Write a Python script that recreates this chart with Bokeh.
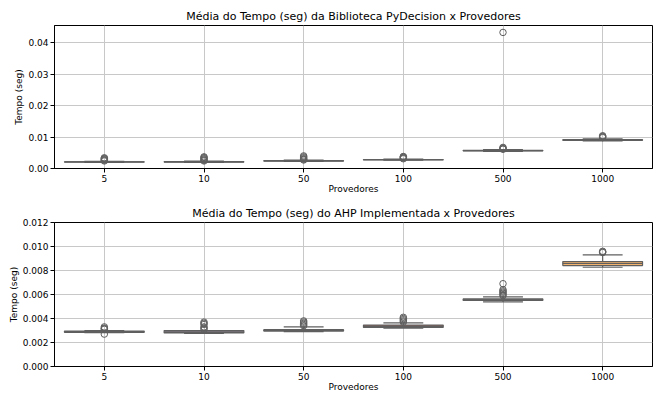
from bokeh.plotting import figure
from bokeh.layouts import column
from bokeh.models import (ColumnDataSource, FactorRange, FixedTicker, PrintfTickFormatter,
                          CategoricalAxis)
from bokeh.transform import dodge
from bokeh.embed import file_html
from bokeh.resources import INLINE

categories = ["5", "10", "50", "100", "500", "1000"]
box_colors = ["#6e6a72", "#77727a", "#7a7276", "#b86a5a", "#7c7878", "#f2b36e"]

# Top chart: PyDecision
top_q1 = [0.00205, 0.00205, 0.00235, 0.00272, 0.00560, 0.00895]
top_med = [0.00210, 0.00210, 0.00240, 0.00278, 0.00568, 0.00905]
top_q3 = [0.00215, 0.00218, 0.00248, 0.00285, 0.00578, 0.00915]
top_lo = [0.00195, 0.00195, 0.00225, 0.00262, 0.00545, 0.00880]
top_hi = [0.00230, 0.00232, 0.00265, 0.00302, 0.00600, 0.00940]
top_out = [
    [0.0024, 0.0026, 0.0028, 0.0030, 0.0032, 0.0034],
    [0.0024, 0.0026, 0.0029, 0.0032, 0.0035, 0.0037],
    [0.0027, 0.0029, 0.0031, 0.0034, 0.0037, 0.0040],
    [0.0031, 0.0033, 0.0035, 0.0037, 0.0038],
    [0.0061, 0.0063, 0.0065, 0.0067, 0.0432],
    [0.0098, 0.0100, 0.0102, 0.0104],
]
top_yticks = [0.0, 0.01, 0.02, 0.03, 0.04]

# Bottom chart: AHP implementada
bot_q1 = [0.00285, 0.00280, 0.00295, 0.00325, 0.00550, 0.00841]
bot_med = [0.00289, 0.00285, 0.00300, 0.00335, 0.00555, 0.00860]
bot_q3 = [0.00295, 0.00300, 0.00307, 0.00345, 0.00563, 0.00875]
bot_lo = [0.00282, 0.00275, 0.00290, 0.00320, 0.00538, 0.00827]
bot_hi = [0.00300, 0.00300, 0.00330, 0.00364, 0.00580, 0.00930]
bot_out = [
    [0.0027, 0.0031, 0.00315, 0.0032, 0.0033],
    [0.0031, 0.0032, 0.0033, 0.0035, 0.0036, 0.0037],
    [0.0034, 0.0035, 0.0036, 0.0037, 0.0038],
    [0.0037, 0.0038, 0.0039, 0.0040, 0.0041],
    [0.0059, 0.0060, 0.0061, 0.0062, 0.0063, 0.0064, 0.0069],
    [0.0095, 0.00955, 0.0096],
]
bot_yticks = [0.0, 0.002, 0.004, 0.006, 0.008, 0.010, 0.012]

LINE = "#5f5f5f"
FONT = "DejaVu Sans"


def make_chart(title, q1, med, q3, lo, hi, outs, yticks, ymax, fmt, height, top_border):
    p = figure(x_range=FactorRange(*categories, range_padding=0), y_range=(0, ymax),
               width=655, height=height, output_backend="svg", toolbar_location=None,
               min_border_left=54, min_border_right=3, min_border_top=top_border,
               min_border_bottom=0)
    src = ColumnDataSource(dict(cat=categories, q1=q1, med=med, q3=q3, lo=lo, hi=hi, color=box_colors))
    # whiskers
    p.segment(x0="cat", y0="lo", x1="cat", y1="q1", source=src, line_color=LINE, line_width=1.2)
    p.segment(x0="cat", y0="q3", x1="cat", y1="hi", source=src, line_color=LINE, line_width=1.2)
    # caps
    p.segment(x0=dodge("cat", -0.2, range=p.x_range), y0="lo", x1=dodge("cat", 0.2, range=p.x_range), y1="lo",
              source=src, line_color=LINE, line_width=1.2)
    p.segment(x0=dodge("cat", -0.2, range=p.x_range), y0="hi", x1=dodge("cat", 0.2, range=p.x_range), y1="hi",
              source=src, line_color=LINE, line_width=1.2)
    # boxes
    p.vbar(x="cat", width=0.8, bottom="q1", top="q3", source=src, fill_color="color",
           line_color=LINE, line_width=1.2)
    # medians
    p.segment(x0=dodge("cat", -0.4, range=p.x_range), y0="med", x1=dodge("cat", 0.4, range=p.x_range), y1="med",
              source=src, line_color=LINE, line_width=1.2)
    # outliers
    oc, ov = [], []
    for c, vals in zip(categories, outs):
        for v in vals:
            oc.append(c)
            ov.append(v)
    p.scatter(x=oc, y=ov, marker="circle", size=6.5, fill_color=None, line_color=LINE, line_width=1)

    bottom_axis = p.below[0]
    left_axis = p.left[0]

    # title drawn as the label of an axis above the frame whose tick labels are empty
    tax = CategoricalAxis(axis_label=title, axis_label_text_font=FONT,
                          axis_label_text_font_size="11px", axis_label_text_font_style="normal",
                          axis_label_text_color="#000000", axis_label_standoff=3,
                          major_label_overrides={c: "" for c in categories},
                          major_label_text_font_size="0px", major_label_standoff=0,
                          major_tick_out=0, major_tick_in=0, axis_line_color=None,
                          major_tick_line_color=None, minor_tick_line_color=None)
    p.add_layout(tax, "above")

    bottom_axis.axis_label = "Provedores"
    left_axis.axis_label = "Tempo (seg)"
    for ax in (bottom_axis, left_axis):
        ax.axis_label_text_font = FONT
        ax.axis_label_text_font_size = "9px"
        ax.axis_label_text_font_style = "normal"
        ax.axis_label_text_color = "#000000"
        ax.major_label_text_font = FONT
        ax.major_label_text_font_size = "9px"
        ax.major_label_text_color = "#000000"
        ax.axis_line_color = "#000000"
        ax.major_tick_line_color = "#000000"
        ax.major_tick_out = 4
        ax.major_tick_in = 0
        ax.minor_tick_line_color = None
        ax.major_label_standoff = 2
    bottom_axis.axis_label_standoff = -1
    left_axis.axis_label_standoff = 1
    left_axis.ticker = FixedTicker(ticks=yticks)
    left_axis.formatter = PrintfTickFormatter(format=fmt)
    p.xgrid.grid_line_color = "#c8c8c8"
    p.ygrid.grid_line_color = "#c8c8c8"
    p.outline_line_color = "#000000"
    p.background_fill_color = "white"
    return p


p1 = make_chart("Média do Tempo (seg) da Biblioteca PyDecision x Provedores",
                top_q1, top_med, top_q3, top_lo, top_hi, top_out, top_yticks, 0.0454, "%.2f", 196, 25)
p2 = make_chart("Média do Tempo (seg) do AHP Implementada x Provedores",
                bot_q1, bot_med, bot_q3, bot_lo, bot_hi, bot_out, bot_yticks, 0.012, "%.3f", 198, 26)

layout = column(p1, p2, spacing=0)
open("out.html", "w").write(file_html(layout, INLINE))
